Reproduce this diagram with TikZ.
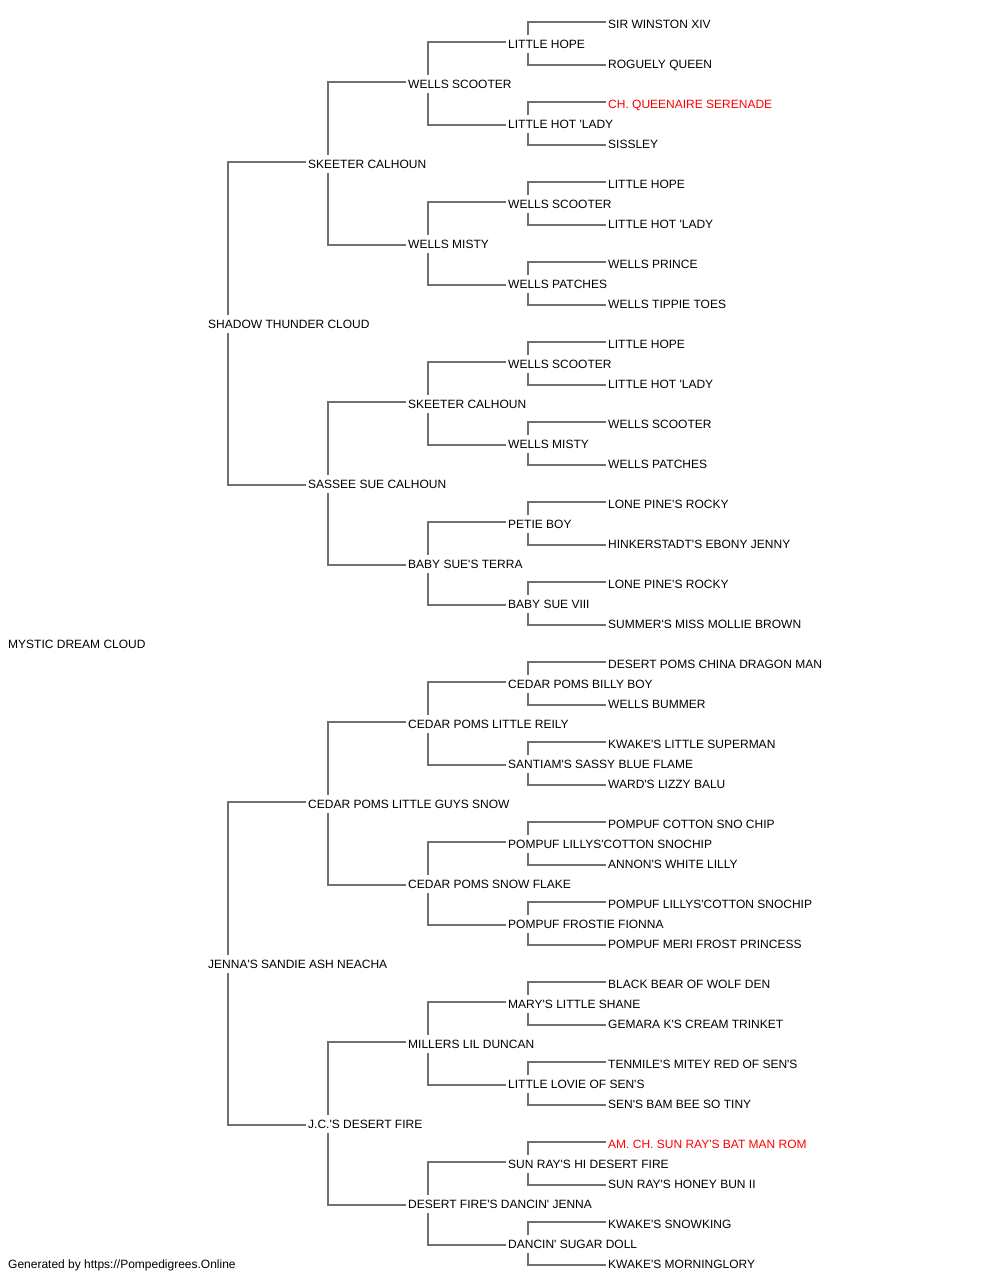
\documentclass[tikz,border=0pt]{standalone}
\usepackage{fontspec}
\setmainfont{Liberation Sans}[Ligatures=TeXOff]
\usetikzlibrary{backgrounds}
\definecolor{linegray}{RGB}{112,112,112}
\begin{document}
\begin{tikzpicture}[x=1pt,y=-1pt,
  nm/.style={anchor=west, fill=white, inner xsep=2pt, inner ysep=3pt,
    text height=10.3pt, text depth=1.7pt, font=\fontsize{12}{14}\selectfont},
  champ/.style={nm, text=red},
  conn/.style={draw=linegray, line width=2pt, line join=miter}]
\useasboundingbox (0,0) rectangle (1000,1280);
% generation 0
\node[nm] (a) at (6,644) {MYSTIC DREAM CLOUD};
% generation 1
\node[nm] (b1) at (206,324) {SHADOW THUNDER CLOUD};
\node[nm] (b2) at (206,964) {JENNA'S SANDIE ASH NEACHA};
% generation 2
\node[nm] (c1) at (306,164) {SKEETER CALHOUN};
\node[nm] (c2) at (306,484) {SASSEE SUE CALHOUN};
\node[nm] (c3) at (306,804) {CEDAR POMS LITTLE GUYS SNOW};
\node[nm] (c4) at (306,1124) {J.C.'S DESERT FIRE};
% generation 3
\node[nm] (d1) at (406,84) {WELLS SCOOTER};
\node[nm] (d2) at (406,244) {WELLS MISTY};
\node[nm] (d3) at (406,404) {SKEETER CALHOUN};
\node[nm] (d4) at (406,564) {BABY SUE'S TERRA};
\node[nm] (d5) at (406,724) {CEDAR POMS LITTLE REILY};
\node[nm] (d6) at (406,884) {CEDAR POMS SNOW FLAKE};
\node[nm] (d7) at (406,1044) {MILLERS LIL DUNCAN};
\node[nm] (d8) at (406,1204) {DESERT FIRE'S DANCIN' JENNA};
% generation 4
\node[nm] (e1) at (506,44) {LITTLE HOPE};
\node[nm] (e2) at (506,124) {LITTLE HOT 'LADY};
\node[nm] (e3) at (506,204) {WELLS SCOOTER};
\node[nm] (e4) at (506,284) {WELLS PATCHES};
\node[nm] (e5) at (506,364) {WELLS SCOOTER};
\node[nm] (e6) at (506,444) {WELLS MISTY};
\node[nm] (e7) at (506,524) {PETIE BOY};
\node[nm] (e8) at (506,604) {BABY SUE VIII};
\node[nm] (e9) at (506,684) {CEDAR POMS BILLY BOY};
\node[nm] (e10) at (506,764) {SANTIAM'S SASSY BLUE FLAME};
\node[nm] (e11) at (506,844) {POMPUF LILLYS'COTTON SNOCHIP};
\node[nm] (e12) at (506,924) {POMPUF FROSTIE FIONNA};
\node[nm] (e13) at (506,1004) {MARY'S LITTLE SHANE};
\node[nm] (e14) at (506,1084) {LITTLE LOVIE OF SEN'S};
\node[nm] (e15) at (506,1164) {SUN RAY'S HI DESERT FIRE};
\node[nm] (e16) at (506,1244) {DANCIN' SUGAR DOLL};
% generation 5
\node[nm] (f1) at (606,24) {SIR WINSTON XIV};
\node[nm] (f2) at (606,64) {ROGUELY QUEEN};
\node[champ] (f3) at (606,104) {CH. QUEENAIRE SERENADE};
\node[nm] (f4) at (606,144) {SISSLEY};
\node[nm] (f5) at (606,184) {LITTLE HOPE};
\node[nm] (f6) at (606,224) {LITTLE HOT 'LADY};
\node[nm] (f7) at (606,264) {WELLS PRINCE};
\node[nm] (f8) at (606,304) {WELLS TIPPIE TOES};
\node[nm] (f9) at (606,344) {LITTLE HOPE};
\node[nm] (f10) at (606,384) {LITTLE HOT 'LADY};
\node[nm] (f11) at (606,424) {WELLS SCOOTER};
\node[nm] (f12) at (606,464) {WELLS PATCHES};
\node[nm] (f13) at (606,504) {LONE PINE'S ROCKY};
\node[nm] (f14) at (606,544) {HINKERSTADT'S EBONY JENNY};
\node[nm] (f15) at (606,584) {LONE PINE'S ROCKY};
\node[nm] (f16) at (606,624) {SUMMER'S MISS MOLLIE BROWN};
\node[nm] (f17) at (606,664) {DESERT POMS CHINA DRAGON MAN};
\node[nm] (f18) at (606,704) {WELLS BUMMER};
\node[nm] (f19) at (606,744) {KWAKE'S LITTLE SUPERMAN};
\node[nm] (f20) at (606,784) {WARD'S LIZZY BALU};
\node[nm] (f21) at (606,824) {POMPUF COTTON SNO CHIP};
\node[nm] (f22) at (606,864) {ANNON'S WHITE LILLY};
\node[nm] (f23) at (606,904) {POMPUF LILLYS'COTTON SNOCHIP};
\node[nm] (f24) at (606,944) {POMPUF MERI FROST PRINCESS};
\node[nm] (f25) at (606,984) {BLACK BEAR OF WOLF DEN};
\node[nm] (f26) at (606,1024) {GEMARA K'S CREAM TRINKET};
\node[nm] (f27) at (606,1064) {TENMILE'S MITEY RED OF SEN'S};
\node[nm] (f28) at (606,1104) {SEN'S BAM BEE SO TINY};
\node[champ] (f29) at (606,1144) {AM. CH. SUN RAY'S BAT MAN ROM};
\node[nm] (f30) at (606,1184) {SUN RAY'S HONEY BUN II};
\node[nm] (f31) at (606,1224) {KWAKE'S SNOWKING};
\node[nm] (f32) at (606,1264) {KWAKE'S MORNINGLORY};
% footer
\node[nm] (foot) at (6,1264) {Generated by https://Pompedigrees.Online};
% connectors
\begin{scope}[on background layer]
\foreach \p/\s/\d in {b1/c1/c2, b2/c3/c4,
  c1/d1/d2, c2/d3/d4, c3/d5/d6, c4/d7/d8,
  d1/e1/e2, d2/e3/e4, d3/e5/e6, d4/e7/e8, d5/e9/e10, d6/e11/e12, d7/e13/e14, d8/e15/e16,
  e1/f1/f2, e2/f3/f4, e3/f5/f6, e4/f7/f8, e5/f9/f10, e6/f11/f12, e7/f13/f14, e8/f15/f16,
  e9/f17/f18, e10/f19/f20, e11/f21/f22, e12/f23/f24, e13/f25/f26, e14/f27/f28, e15/f29/f30, e16/f31/f32}
  \draw[conn] ([yshift=2pt]\s.west) -| ([xshift=22pt]\p.west) |- ([yshift=-1pt]\d.west);
\end{scope}
\end{tikzpicture}
\end{document}
